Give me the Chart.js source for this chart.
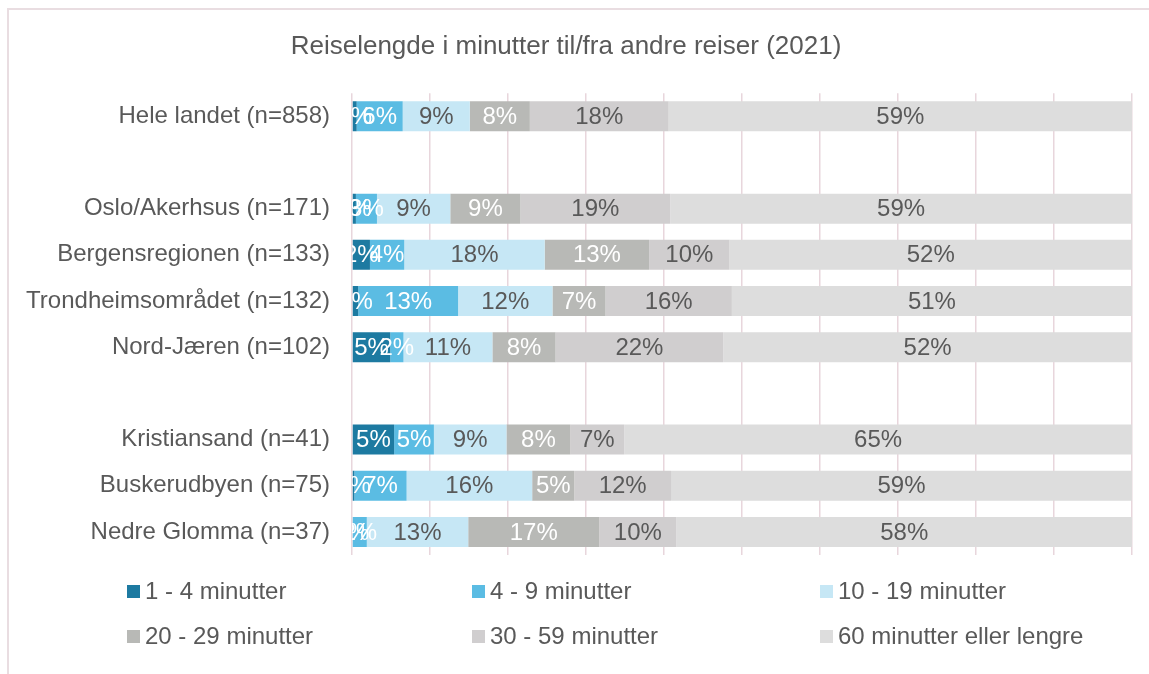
<!DOCTYPE html>
<html lang="no">
<head>
<meta charset="utf-8">
<title>Reiselengde i minutter</title>
<script src="https://cdn.jsdelivr.net/npm/chart.js@4.4.1/dist/chart.umd.min.js"></script>
<style>
  html, body { margin: 0; padding: 0; background: #fff; overflow: hidden; }
  #wrap { position: relative; width: 1149px; height: 674px; }
  #frame { position: absolute; left: 7px; top: 8px; width: 1200px; height: 700px;
           border-left: 2px solid #e9dde1; border-top: 2px solid #e9dde1; }
  canvas { position: absolute; left: 0; top: 0; }
  .leg { position: absolute; font-family: "Liberation Sans", Arial, sans-serif; font-size: 24px;
         color: #595959; white-space: nowrap; line-height: 28px; }
  .leg span { display: inline-block; width: 13px; height: 13px; margin-right: 5px; vertical-align: 1px; }
</style>
</head>
<body>
<div id="wrap">
  <div id="frame"></div>
  <canvas id="chart" width="1149" height="674"></canvas>
  <div id="legend"></div>
</div>
<script>
const categories = [
  'Hele landet (n=858)', '',
  'Oslo/Akerhsus (n=171)', 'Bergensregionen (n=133)', 'Trondheimsområdet (n=132)', 'Nord-Jæren (n=102)', '',
  'Kristiansand (n=41)', 'Buskerudbyen (n=75)', 'Nedre Glomma (n=37)'
];

const seriesNames = ['1 - 4 minutter', '4 - 9 minutter', '10 - 19 minutter',
                     '20 - 29 minutter', '30 - 59 minutter', '60 minutter eller lengre'];

// andel i prosent, null = tom rad (mellomrom)
const min1to4   = [0.6, null, 0.5, 2.3, 0.8, 4.9, null, 5.4, 0.3, 0];
const min4to9   = [5.9, null, 2.7, 4.4, 12.8, 1.7, null, 5.1, 6.7, 1.9];
const min10to19 = [8.6, null, 9.4, 18.0, 12.1, 11.4, null, 9.3, 16.1, 13.0];
const min20to29 = [7.7, null, 9.0, 13.4, 6.8, 8.1, null, 8.2, 5.4, 16.8];
const min30to59 = [17.8, null, 19.2, 10.3, 16.2, 21.5, null, 6.9, 12.4, 9.9];
const min60plus = [59.4, null, 59.2, 51.6, 51.3, 52.4, null, 65.1, 59.1, 58.4];

const colors = ['#1d7aa1', '#5bbce3', '#c6e7f5', '#b8b9b6', '#d0cecf', '#dddddd'];
const labelColors = ['#ffffff', '#ffffff', '#595959', '#ffffff', '#595959', '#595959'];

const FONT = '"Liberation Sans", Arial, sans-serif';
const allSeries = [min1to4, min4to9, min10to19, min20to29, min30to59, min60plus];

// prosentetiketter midt i hvert segment, klippet til plottområdet
const segmentLabels = {
  id: 'segmentLabels',
  afterDatasetsDraw(chart) {
    const ctx = chart.ctx;
    const area = chart.chartArea;
    ctx.save();
    ctx.beginPath();
    ctx.rect(area.left, area.top, area.right - area.left, area.bottom - area.top);
    ctx.clip();
    ctx.font = '24px ' + FONT;
    ctx.textAlign = 'center';
    ctx.textBaseline = 'middle';
    chart.data.datasets.forEach((ds, i) => {
      const meta = chart.getDatasetMeta(i);
      meta.data.forEach((bar, j) => {
        const v = ds.data[j];
        if (v === null || v === undefined) return;
        ctx.fillStyle = labelColors[i];
        ctx.fillText(Math.round(v) + '%', (bar.x + bar.base) / 2, bar.y + 1);
      });
    });
    ctx.restore();
  }
};

new Chart(document.getElementById('chart'), {
  type: 'bar',
  data: {
    labels: categories,
    datasets: allSeries.map((d, i) => ({
      label: seriesNames[i],
      data: d,
      backgroundColor: colors[i],
      borderWidth: 0,
      barPercentage: 1,
      categoryPercentage: 0.65
    }))
  },
  options: {
    indexAxis: 'y',
    responsive: false,
    animation: false,
    layout: { padding: { left: 0, right: 17, top: 0, bottom: 119 } },
    plugins: {
      legend: { display: false },
      tooltip: { enabled: false },
      title: {
        display: true,
        text: 'Reiselengde i minutter til/fra andre reiser (2021)',
        color: '#595959',
        font: { family: FONT, size: 26, weight: 'normal' },
        padding: { top: 31, bottom: 31 }
      }
    },
    scales: {
      x: {
        stacked: true,
        min: 0,
        max: 100,
        ticks: { display: false, stepSize: 10 },
        grid: { color: '#e8d6dc', lineWidth: 1.5, drawTicks: false },
        border: { display: false }
      },
      y: {
        stacked: true,
        ticks: { color: '#595959', font: { family: FONT, size: 24 }, padding: 22, autoSkip: false },
        grid: { display: false, drawTicks: false },
        border: { display: false },
        afterFit(scale) { scale.width = 352; }
      }
    }
  },
  plugins: [segmentLabels]
});

// forklaring i tre kolonner, to rader
const legendEl = document.getElementById('legend');
const colX = [127, 472, 820];
const rowY = [577, 622];
seriesNames.forEach((name, i) => {
  const item = document.createElement('div');
  item.className = 'leg';
  item.style.left = colX[i % 3] + 'px';
  item.style.top = rowY[Math.floor(i / 3)] + 'px';
  item.innerHTML = '<span style="background:' + colors[i] + '"></span>' + name;
  legendEl.appendChild(item);
});
</script>
</body>
</html>
